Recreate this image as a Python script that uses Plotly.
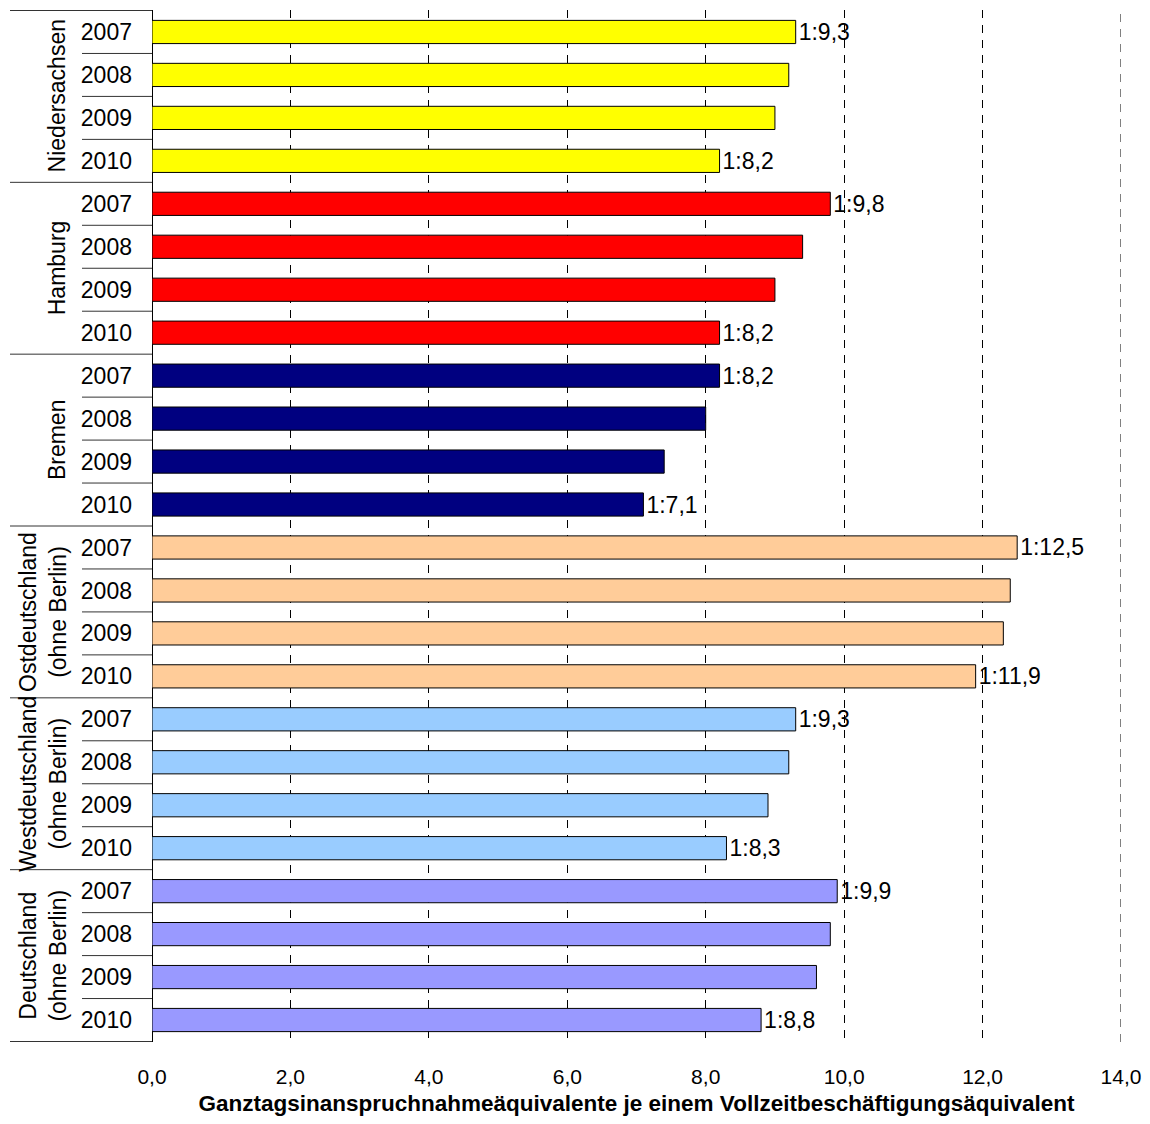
import plotly.graph_objects as go

groups = ["Niedersachsen", "Hamburg", "Bremen",
          "Ostdeutschland<br>(ohne Berlin)", "Westdeutschland<br>(ohne Berlin)",
          "Deutschland<br>(ohne Berlin)"]
years = ["2007", "2008", "2009", "2010"]
niedersachsen = [9.3, 9.2, 9.0, 8.2]
hamburg = [9.8, 9.4, 9.0, 8.2]
bremen = [8.2, 8.0, 7.4, 7.1]
ost = [12.5, 12.4, 12.3, 11.9]
west = [9.3, 9.2, 8.9, 8.3]
deutschland = [9.9, 9.8, 9.6, 8.8]
series = [niedersachsen, hamburg, bremen, ost, west, deutschland]
colors = ["#FFFF00", "#FF0000", "#000080", "#FFCC99", "#99CCFF", "#9999FF"]
x_ticks = [0, 2, 4, 6, 8, 10, 12, 14]
x_ticktext = ["0,0", "2,0", "4,0", "6,0", "8,0", "10,0", "12,0", "14,0"]
x_max = 14
labelled_years = ["2007", "2010"]

FONT = "Liberation Sans, Arial, sans-serif"

fig = go.Figure()
cats = []
for g, vals, col in zip(groups, series, colors):
    keys = [f"{g}|{y}" for y in years]
    cats += keys
    texts = [("1:" + f"{v:.1f}".replace(".", ",")) if y in labelled_years else ""
             for v, y in zip(vals, years)]
    fig.add_trace(go.Bar(
        x=vals, y=keys, orientation="h",
        marker=dict(color=col, line=dict(color="black", width=1)),
        text=texts, textposition="outside", cliponaxis=False,
        constraintext="none",
        textfont=dict(family=FONT, size=23, color="black"),
        showlegend=False,
    ))

# page body has an 8px margin; screen coordinates are converted to plot-paper ones
W = 969.0
def px(p):
    return (p - 152) / W

shapes = []
for gi in range(len(groups) + 1):
    yb = gi * 4 - 0.5
    shapes.append(dict(type="line", xref="paper", yref="y", x0=px(10), x1=0,
                       y0=yb, y1=yb, line=dict(color="#333333", width=1)))
for gi in range(len(groups)):
    for k in range(1, 4):
        yb = gi * 4 + k - 0.5
        shapes.append(dict(type="line", xref="paper", yref="y", x0=px(82), x1=0,
                           y0=yb, y1=yb, line=dict(color="#333333", width=1)))
# last dashed gridline at the right edge of the plot
shapes.append(dict(type="line", xref="x", yref="paper", x0=x_max, x1=x_max, y0=0, y1=1,
                   line=dict(color="black", width=1, dash="8px,7px")))

annotations = []
for gi, g in enumerate(groups):
    two = "<br>" in g
    annotations.append(dict(
        text=g, xref="paper", yref="y", x=px(43 if two else 57), y=gi * 4 + 1.5,
        textangle=-90, showarrow=False, xanchor="center", yanchor="middle",
        font=dict(family=FONT, size=23, color="black")))

fig.update_layout(
    width=1142, height=1108,
    margin=dict(l=144, r=29, t=2, b=74, autoexpand=False),
    plot_bgcolor="white", paper_bgcolor="white",
    bargap=0.46,
    font=dict(family=FONT, color="black"),
    shapes=shapes, annotations=annotations,
    xaxis=dict(range=[0, x_max], tickvals=x_ticks, ticktext=x_ticktext,
               automargin=False,
               showgrid=True, gridcolor="black", gridwidth=1, griddash="8px,7px",
               zeroline=True, zerolinecolor="black", zerolinewidth=1,
               ticks="", ticklabelstandoff=20,
               tickfont=dict(family=FONT, size=21),
               title=dict(text="<b>Ganztagsinanspruchnahmeäquivalente je einem Vollzeitbeschäftigungsäquivalent</b>",
                          font=dict(family=FONT, size=22.5), standoff=14)),
    yaxis=dict(type="category", categoryorder="array", categoryarray=cats,
               autorange="reversed", tickvals=cats, automargin=False,
               ticktext=[c.split("|")[1] for c in cats],
               ticks="", ticklabelstandoff=19, showgrid=False,
               tickfont=dict(family=FONT, size=23)),
)

fig.write_html("out.html")
